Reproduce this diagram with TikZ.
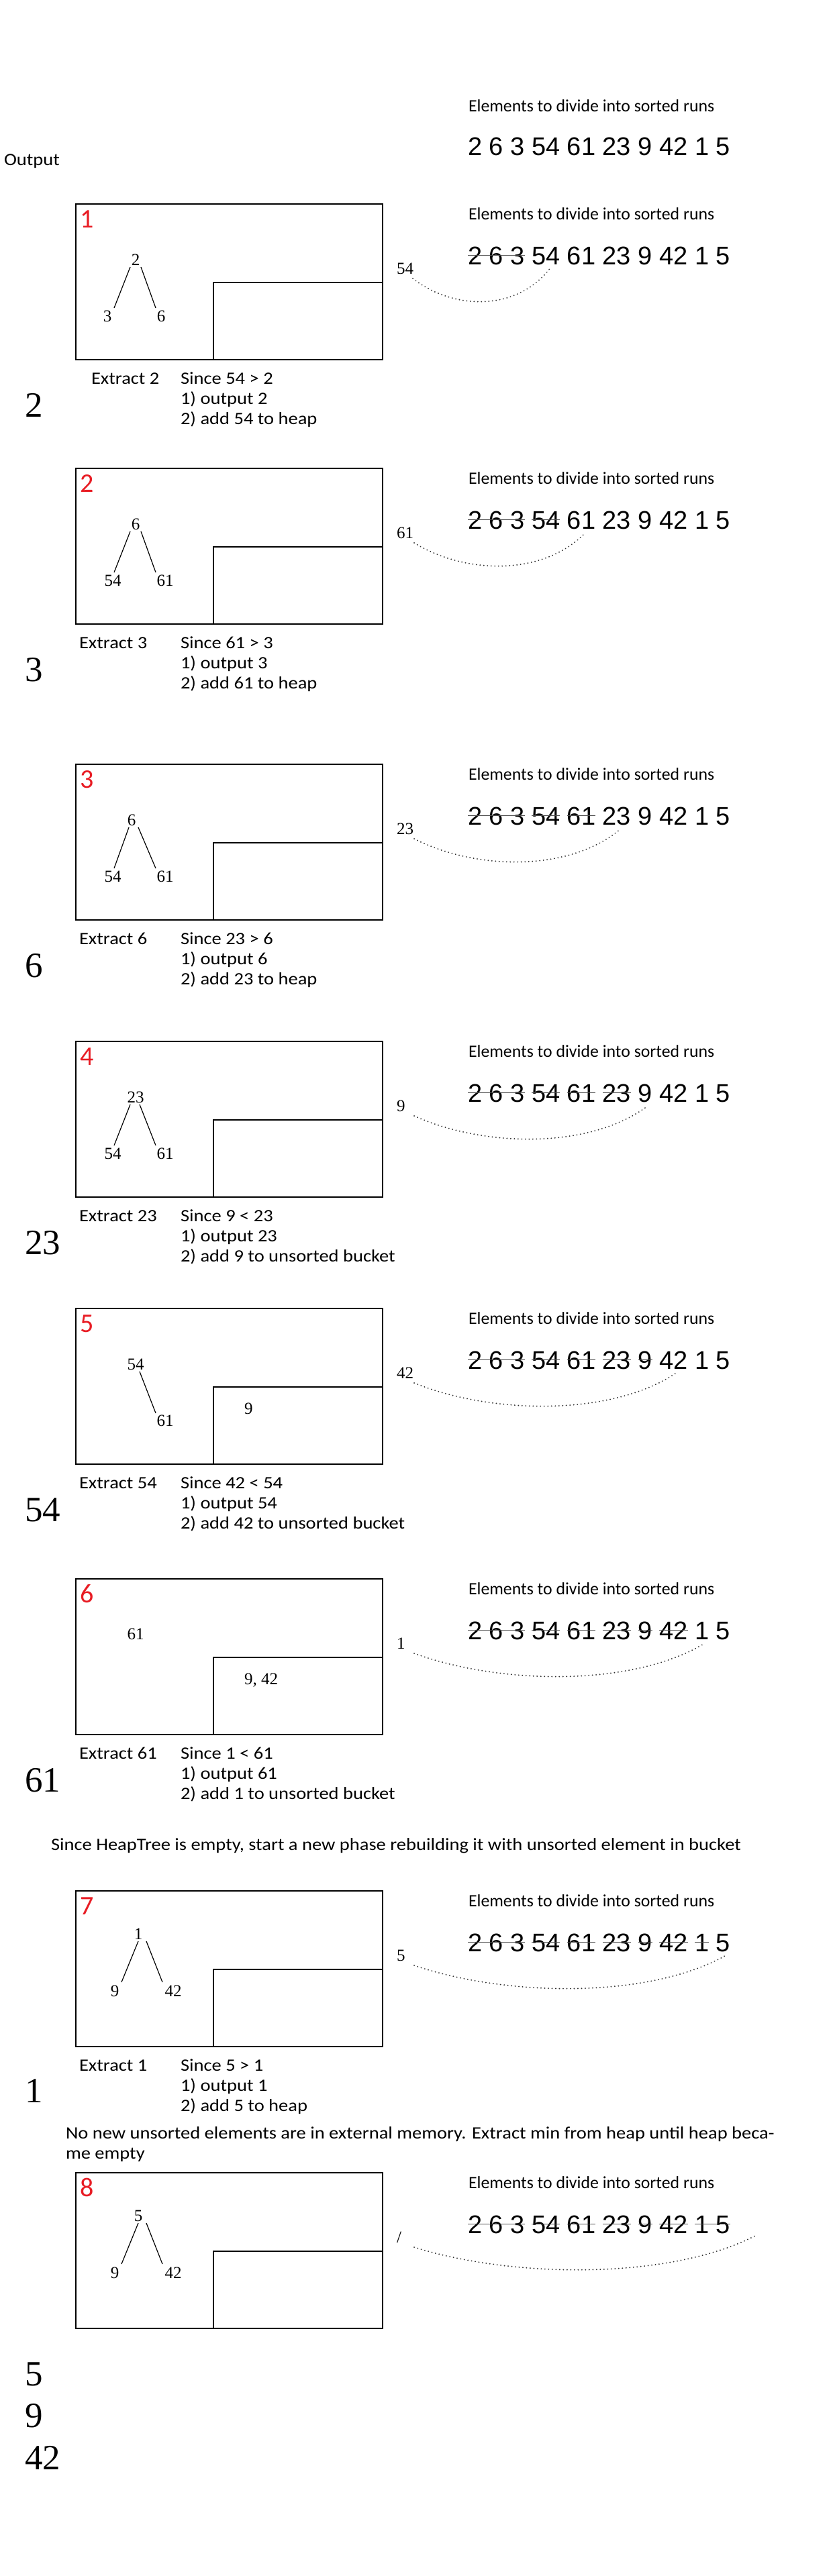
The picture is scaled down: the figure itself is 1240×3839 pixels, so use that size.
\documentclass[tikz,border=0pt]{standalone}
\usepackage{fontspec}
\setmainfont{Liberation Serif}
\newfontfamily\capf{Carlito}
\newfontfamily\capwf[FakeStretch=1.105]{Carlito}
\newfontfamily\numf{Liberation Sans}
\usetikzlibrary{calc}
\definecolor{stepred}{RGB}{232,28,36}
\definecolor{strikegray}{RGB}{80,80,80}
\definecolor{dotgray}{RGB}{50,50,50}

\tikzset{
 every node/.style={inner sep=0pt, outer sep=0pt},
 panelbox/.style={draw=black, line width=1.8pt},
 hdrtxt/.style={font=\capf\fontsize{25.8}{30}\selectfont, anchor=base west},
 captxt/.style={font=\capwf\fontsize{25.8}{30}\selectfont, anchor=base west},
 tnum/.style={font=\fontsize{25}{28}\selectfont, anchor=base},
 lbl/.style={font=\fontsize{25}{28}\selectfont, anchor=base west},
 stepno/.style={font=\capf\fontsize{40}{44}\selectfont, text=stepred, anchor=base west},
 tok/.style={font=\numf\fontsize{38}{40}\selectfont, anchor=base west},
 bignum/.style={font=\fontsize{53}{56}\selectfont, anchor=base west},
 edge/.style={line width=1.2pt},
 strike/.style={draw=strikegray, line width=1.3pt},
 dots/.style={draw=dotgray, line width=2pt, line cap=round, dash pattern=on 0.1pt off 5.4pt},
}

\newcommand\numrow[2]{%
 \node[tok] (#1n1) at (697,#2) {2};
 \node[tok] (#1n2) at ([xshift=10.57pt]#1n1.base east) {6};
 \node[tok] (#1n3) at ([xshift=10.57pt]#1n2.base east) {3};
 \node[tok] (#1n4) at ([xshift=10.57pt]#1n3.base east) {54};
 \node[tok] (#1n5) at ([xshift=10.57pt]#1n4.base east) {61};
 \node[tok] (#1n6) at ([xshift=10.57pt]#1n5.base east) {23};
 \node[tok] (#1n7) at ([xshift=10.57pt]#1n6.base east) {9};
 \node[tok] (#1n8) at ([xshift=10.57pt]#1n7.base east) {42};
 \node[tok] (#1n9) at ([xshift=10.57pt]#1n8.base east) {1};
 \node[tok] (#1n10) at ([xshift=10.57pt]#1n9.base east) {5};
}
\newcommand\strk[2]{\draw[strike] ([yshift=13.5pt]#1.base west) -- ([yshift=13.5pt]#2.base east);}
\newcommand\panelframe[2]{%
 \node[panelbox, anchor=north west, minimum width=457pt, minimum height=232pt] (#1box) at (113,\T) {};
 \node[panelbox, anchor=south east, minimum width=252pt, minimum height=115pt] (#1bkt) at (#1box.south east) {};
 \node[stepno] (#1step) at (119,\T+35) {#2};
 \node[hdrtxt] (#1hdr) at (698,\T+23) {Elements to divide into sorted runs};
 \numrow{#1}{\T+90}
}
\newcommand\captions[6]{%
 \node[captxt] (#1ex) at (#2,\T+268) {#3};
 \node[captxt] (#1c1) at (269,\T+268) {#4};
 \node[captxt] (#1c2) at (269,\T+298) {#5};
 \node[captxt] (#1c3) at (269,\T+328) {#6};
}

\begin{document}
\begin{tikzpicture}[x=1pt,y=-1pt]
\fill[white] (0,0) rectangle (1240,3839);
\useasboundingbox (0,0) rectangle (1240,3839);

% top block
\node[hdrtxt] (hdr0) at (698,166) {Elements to divide into sorted runs};
\numrow{t}{231}
\node[captxt] (outlbl) at (6,246) {Output};

% ---------- panel 1
\def\T{304}
\panelframe{pa}{1}
\node[tnum] (par) at (202,\T+91) {2};
\node[tnum] (pal) at (160,\T+175) {3};
\node[tnum] (parr) at (240,\T+175) {6};
\draw[edge] ([xshift=-8pt,yshift=-3pt]par.base) -- ([xshift=10pt,yshift=20pt]pal.base);
\draw[edge] ([xshift=8pt,yshift=-3pt]par.base) -- ([xshift=-8pt,yshift=20pt]parr.base);
\node[lbl] (palbl) at (591,\T+104) {54};
\strk{pan1}{pan3}
\draw[dots] ([xshift=24pt,yshift=-7pt]palbl.base west) .. controls +(60,47) and +(-50,65) .. ([xshift=6pt,yshift=-6pt]pan4.base);
\captions{pa}{136}{Extract 2}{Since 54 > 2}{1) output 2}{2) add 54 to heap}
\node[bignum] (paout) at (37,\T+317) {2};

% ---------- panel 2
\def\T{698}
\panelframe{pb}{2}
\node[tnum] (pbr) at (202,\T+91) {6};
\node[tnum] (pbl) at (168,\T+175) {54};
\node[tnum] (pbrr) at (246,\T+175) {61};
\draw[edge] ([xshift=-8pt,yshift=-3pt]pbr.base) -- ([xshift=2pt,yshift=20pt]pbl.base);
\draw[edge] ([xshift=8pt,yshift=-3pt]pbr.base) -- ([xshift=-14pt,yshift=20pt]pbrr.base);
\node[lbl] (pblbl) at (591,\T+104) {61};
\strk{pbn1}{pbn3}
\strk{pbn4}{pbn4}
\draw[dots] ([xshift=26pt,yshift=-7pt]pblbl.base west) .. controls +(76,47) and +(-63,65) .. ([xshift=6pt,yshift=-6pt]pbn5.base);
\captions{pb}{118}{Extract 3}{Since 61 > 3}{1) output 3}{2) add 61 to heap}
\node[bignum] (pbout) at (37,\T+317) {3};

% ---------- panel 3
\def\T{1139}
\panelframe{pc}{3}
\node[tnum] (pcr) at (196,\T+91) {6};
\node[tnum] (pcl) at (168,\T+175) {54};
\node[tnum] (pcrr) at (246,\T+175) {61};
\draw[edge] ([xshift=-4pt,yshift=-3pt]pcr.base) -- ([xshift=2pt,yshift=20pt]pcl.base);
\draw[edge] ([xshift=10pt,yshift=-3pt]pcr.base) -- ([xshift=-14pt,yshift=20pt]pcrr.base);
\node[lbl] (pclbl) at (591,\T+104) {23};
\strk{pcn1}{pcn3}
\strk{pcn4}{pcn4}
\strk{pcn5}{pcn5}
\draw[dots] ([xshift=26pt,yshift=-7pt]pclbl.base west) .. controls +(92,47) and +(-76,65) .. ([xshift=6pt,yshift=-6pt]pcn6.base);
\captions{pc}{118}{Extract 6}{Since 23 > 6}{1) output 6}{2) add 23 to heap}
\node[bignum] (pcout) at (37,\T+317) {6};

% ---------- panel 4
\def\T{1552}
\panelframe{pd}{4}
\node[tnum] (pdr) at (202,\T+91) {23};
\node[tnum] (pdl) at (168,\T+175) {54};
\node[tnum] (pdrr) at (246,\T+175) {61};
\draw[edge] ([xshift=-8pt,yshift=-3pt]pdr.base) -- ([xshift=2pt,yshift=20pt]pdl.base);
\draw[edge] ([xshift=6pt,yshift=-3pt]pdr.base) -- ([xshift=-14pt,yshift=20pt]pdrr.base);
\node[lbl] (pdlbl) at (591,\T+104) {9};
\strk{pdn1}{pdn3}
\strk{pdn4}{pdn4}
\strk{pdn5}{pdn5}
\strk{pdn6}{pdn6}
\draw[dots] ([xshift=26pt,yshift=-7pt]pdlbl.base west) .. controls +(104,47) and +(-86,65) .. ([xshift=4pt,yshift=-6pt]pdn7.base);
\captions{pd}{118}{Extract 23}{Since 9 < 23}{1) output 23}{2) add 9 to unsorted bucket}
\node[bignum] (pdout) at (37,\T+317) {23};

% ---------- panel 5
\def\T{1950}
\panelframe{pe}{5}
\node[tnum] (per) at (202,\T+91) {54};
\node[tnum] (perr) at (246,\T+175) {61};
\draw[edge] ([xshift=6pt,yshift=-3pt]per.base) -- ([xshift=-14pt,yshift=19pt]perr.base);
\node[lbl] (pebk) at (364,\T+157) {9};
\node[lbl] (pelbl) at (591,\T+104) {42};
\strk{pen1}{pen3}
\strk{pen4}{pen4}
\strk{pen5}{pen5}
\strk{pen6}{pen6}
\strk{pen7}{pen7}
\draw[dots] ([xshift=26pt,yshift=-7pt]pelbl.base west) .. controls +(115,47) and +(-96,65) .. ([xshift=4pt,yshift=-6pt]pen8.base);
\captions{pe}{118}{Extract 54}{Since 42 < 54}{1) output 54}{2) add 42 to unsorted bucket}
\node[bignum] (peout) at (37,\T+317) {54};

% ---------- panel 6
\def\T{2353}
\panelframe{pf}{6}
\node[tnum] (pfr) at (202,\T+90) {61};
\node[lbl] (pfbk) at (364,\T+157) {9, 42};
\node[lbl] (pflbl) at (591,\T+104) {1};
\strk{pfn1}{pfn3}
\strk{pfn4}{pfn4}
\strk{pfn5}{pfn5}
\strk{pfn6}{pfn6}
\strk{pfn7}{pfn7}
\strk{pfn8}{pfn8}
\draw[dots] ([xshift=26pt,yshift=-7pt]pflbl.base west) .. controls +(129,47) and +(-107,65) .. ([xshift=4pt,yshift=-6pt]pfn9.base);
\captions{pf}{118}{Extract 61}{Since 1 < 61}{1) output 61}{2) add 1 to unsorted bucket}
\node[bignum] (pfout) at (37,\T+317) {61};

\node[captxt] (phase) at (76,2757) {Since HeapTree is empty, start a new phase rebuilding it with unsorted element in bucket};

% ---------- panel 7
\def\T{2818}
\panelframe{pg}{7}
\node[tnum] (pgr) at (206,\T+72) {1};
\node[tnum] (pgl) at (171,\T+157) {9};
\node[tnum] (pgrr) at (258,\T+157) {42};
\draw[edge] ([xshift=0pt,yshift=-3pt]pgr.base) -- ([xshift=10pt,yshift=21pt]pgl.base);
\draw[edge] ([xshift=12pt,yshift=-3pt]pgr.base) -- ([xshift=-16pt,yshift=21pt]pgrr.base);
\node[lbl] (pglbl) at (591,\T+104) {5};
\strk{pgn1}{pgn3}
\strk{pgn4}{pgn4}
\strk{pgn5}{pgn5}
\strk{pgn6}{pgn6}
\strk{pgn7}{pgn7}
\strk{pgn8}{pgn8}
\strk{pgn9}{pgn9}
\draw[dots] ([xshift=26pt,yshift=-7pt]pglbl.base west) .. controls +(138,47) and +(-115,65) .. ([xshift=4pt,yshift=-6pt]pgn10.base);
\captions{pg}{118}{Extract 1}{Since 5 > 1}{1) output 1}{2) add 5 to heap}
\node[bignum] (pgout) at (37,\T+315) {1};

\node[captxt] (nonew1) at (98,3187) {No new unsorted elements are in external memory. Extract min from heap until heap beca-};
\node[captxt] (nonew2) at (98,3217) {me empty};

% ---------- panel 8
\def\T{3238}
\panelframe{ph}{8}
\node[tnum] (phr) at (206,\T+72) {5};
\node[tnum] (phl) at (171,\T+157) {9};
\node[tnum] (phrr) at (258,\T+157) {42};
\draw[edge] ([xshift=0pt,yshift=-3pt]phr.base) -- ([xshift=10pt,yshift=21pt]phl.base);
\draw[edge] ([xshift=12pt,yshift=-3pt]phr.base) -- ([xshift=-16pt,yshift=21pt]phrr.base);
\node[lbl] (phlbl) at (591,\T+104) {/};
\strk{phn1}{phn3}
\strk{phn4}{phn4}
\strk{phn5}{phn5}
\strk{phn6}{phn6}
\strk{phn7}{phn7}
\strk{phn8}{phn8}
\strk{phn9}{phn10}
\coordinate (phend) at (1125,\T+94);
\draw[dots] ([xshift=26pt,yshift=-7pt]phlbl.base west) .. controls +(150,47) and +(-126,65) .. (phend);

\node[bignum] (fin1) at (37,3555) {5};
\node[bignum] (fin2) at (37,3617) {9};
\node[bignum] (fin3) at (37,3680) {42};
\end{tikzpicture}
\end{document}
